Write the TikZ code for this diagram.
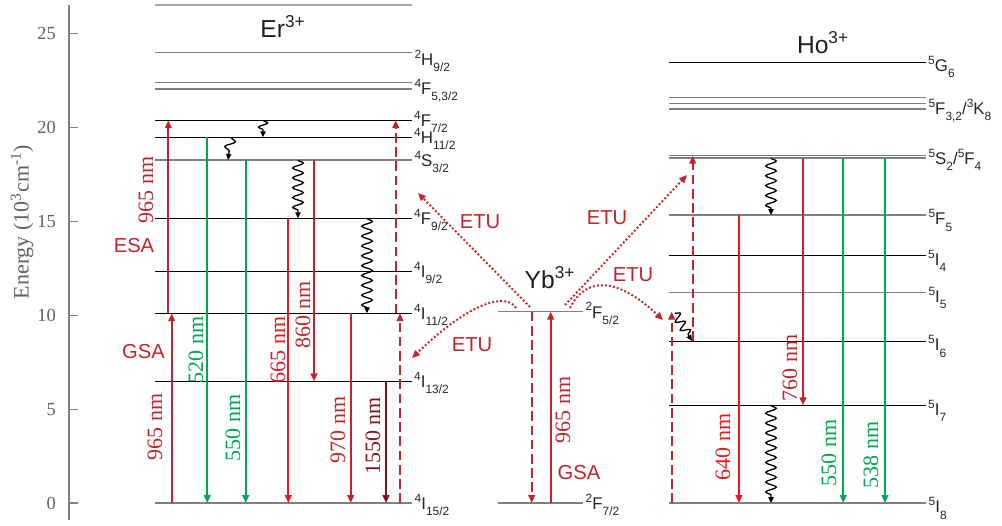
\documentclass[tikz,border=0pt]{standalone}
\usepackage{fontspec}
\setmainfont{Liberation Sans}
\newfontfamily\serifnum{Liberation Serif}
\usepackage{xcolor}
\usepackage{tikz}
\usetikzlibrary{arrows.meta,decorations.pathmorphing}
\definecolor{rojo}{RGB}{193,36,42}
\definecolor{rojovivo}{RGB}{234,22,30}
\definecolor{granate}{RGB}{128,20,22}
\definecolor{verde}{RGB}{0,166,80}
\definecolor{gris}{RGB}{128,128,128}
\definecolor{ejes}{RGB}{96,96,96}
\newcommand{\termino}[3]{\raisebox{0.8ex}{\fontsize{6.8}{7}\selectfont #1}#2\raisebox{-0.7ex}{\fontsize{6.8}{7}\selectfont #3}}
\tikzset{
  nivel/.style={draw=black,line width=0.55pt},
  nivelgris/.style={draw=gris,line width=0.9pt},
  radiativa/.style={-{Triangle[length=4.5pt,width=3.8pt]},line width=1.15pt},
  bombeo/.style={-{Triangle[length=4.5pt,width=3.8pt]},line width=1.3pt,
    dash pattern=on 5.5pt off 2.6pt,draw=rojo},
  etu/.style={-{Triangle[length=4.5pt,width=3.8pt]},line width=1.1pt,
    dash pattern=on 1.1pt off 1.2pt,draw=rojo},
  norad/.style={-{Triangle[length=3.4pt,width=3pt]},line width=0.75pt,draw=black,
    decorate,decoration={snake,amplitude=3pt,segment length=5.6pt,post length=2.8pt}},
  estado/.style={anchor=west,inner sep=1pt,yshift=-1pt,text=black!85,
    font=\fontsize{9.6}{10}\selectfont}
}

\begin{document}
\begin{tikzpicture}[
  x=0.02cm,y=-0.02cm,
  onda/.style={rotate=90,font=\serifnum\fontsize{12.5}{14}\selectfont},
  proceso/.style={text=rojo,font=\fontsize{11.5}{13}\selectfont},
  ion/.style={anchor=base,text=black!88,font=\fontsize{14}{16}\selectfont},
  marca/.style={anchor=east,text=ejes,font=\serifnum\fontsize{10.5}{12}\selectfont},
  eje/.style={draw=gris,line width=0.8pt}
]
\useasboundingbox (0,0) rectangle (1002,525);

% 1. Eje de energía
\coordinate (ejearriba) at (69,5);
\coordinate (ejeabajo) at (69,520);
\draw[eje] (ejearriba) -- (ejeabajo);
\draw[eje] (69,503) -- +(9,0);
\draw[eje] (69,409.2) -- +(9,0);
\draw[eje] (69,315.3) -- +(9,0);
\draw[eje] (69,221.5) -- +(9,0);
\draw[eje] (69,127.6) -- +(9,0);
\draw[eje] (69,33.7) -- +(9,0);
\node[marca] (m0) at (62,503) {0};
\node[marca] (m5) at (62,409.2) {5};
\node[marca] (m10) at (62,315.3) {10};
\node[marca] (m15) at (62,221.5) {15};
\node[marca] (m20) at (62,127.6) {20};
\node[marca] (m25) at (62,33.7) {25};
\node[rotate=90,text=ejes,font=\serifnum\fontsize{12.5}{14}\selectfont] (titulo) at (22,222)
  {Energy (10\textsuperscript{3}cm\textsuperscript{-1})};

% 2. Niveles del Er
\coordinate (erTope) at (155,5);
\coordinate (er2H92) at (155,52.7);
\coordinate (er4F52) at (155,82.3);
\coordinate (er4F32) at (155,89);
\coordinate (er4F72) at (155,120.3);
\coordinate (er4H112) at (155,137.3);
\coordinate (er4S32) at (155,160);
\coordinate (er4F92) at (155,218.3);
\coordinate (er4I92) at (155,271);
\coordinate (er4I112) at (155,313.3);
\coordinate (er4I132) at (155,381.3);
\coordinate (er4I152) at (155,503);

\draw[nivelgris,draw=gris!70] (erTope) -- +(257,0);
\draw[nivelgris] (er2H92) -- +(257,0) node[estado,yshift=-3.5pt] {\termino{2}{H}{9/2}};
\draw[nivelgris] (er4F52) -- +(257,0);
\draw[nivelgris] (er4F32) -- +(257,0) node[estado] {\termino{4}{F}{5,3/2}};
\draw[nivel] (er4F72) -- +(257,0) node[estado] {\termino{4}{F}{7/2}};
\draw[nivel] (er4H112) -- +(257,0) node[estado] {\termino{4}{H}{11/2}};
\draw[nivelgris] (er4S32) -- +(257,0) node[estado] {\termino{4}{S}{3/2}};
\draw[nivel] (er4F92) -- +(257,0) node[estado] {\termino{4}{F}{9/2}};
\draw[nivel] (er4I92) -- +(257,0) node[estado] {\termino{4}{I}{9/2}};
\draw[nivel] (er4I112) -- +(257,0) node[estado] {\termino{4}{I}{11/2}};
\draw[nivel] (er4I132) -- +(257,0) node[estado] {\termino{4}{I}{13/2}};
\draw[nivelgris,line width=1.1pt] (er4I152) -- +(257,0) node[estado] {\termino{4}{I}{15/2}};
\node[ion] (er) at (283,37) {Er\textsuperscript{3+}};

% absorción y emisiones
\draw[radiativa,draw=rojo] (171.7,0 |- er4I152) -- (171.7,0 |- er4I112);
\draw[radiativa,draw=rojo] (168.3,0 |- er4I112) -- (168.3,0 |- er4F72);
\draw[radiativa,draw=verde] (207.3,0 |- er4H112) -- (207.3,0 |- er4I152);
\draw[radiativa,draw=verde] (245.7,0 |- er4S32) -- (245.7,0 |- er4I152);
\draw[radiativa,draw=rojovivo] (288.3,0 |- er4F92) -- (288.3,0 |- er4I152);
\draw[radiativa,draw=rojo] (314,0 |- er4S32) -- (314,0 |- er4I132);
\draw[radiativa,draw=rojo] (350.7,0 |- er4I112) -- (350.7,0 |- er4I152);
\draw[radiativa,draw=granate] (386,0 |- er4I132) -- (386,0 |- er4I152);
\draw[bombeo] (400,0 |- er4I152) -- (400,0 |- er4I112);
\draw[bombeo] (395.7,0 |- er4I112) -- (395.7,0 |- er4F72);

% relajaciones no radiativas
\draw[norad,decoration={amplitude=2.6pt,segment length=4.8pt,post length=2.4pt}] (263,0 |- er4F72) -- (263,0 |- er4H112);
\draw[norad,decoration={amplitude=2.8pt,segment length=7pt}] (231,0 |- er4H112) -- (228,0 |- er4S32);
\draw[norad] (298,0 |- er4S32) -- (298,0 |- er4F92);
\draw[norad] (367,0 |- er4F92) -- (367,0 |- er4I112);

\node[onda,text=rojo] (er965esa) at (146,190) {965 nm};
\node[proceso] (esa) at (134,246) {ESA};
\node[proceso] (gsaer) at (143.5,352) {GSA};
\node[onda,text=rojo] (er965gsa) at (155,427) {965 nm};
\node[onda,text=verde] (er520) at (196,350) {520 nm};
\node[onda,text=verde] (er550) at (233,428) {550 nm};
\node[onda,text=rojovivo] (er665) at (278,350) {665 nm};
\node[onda,text=rojo] (er860) at (303,315) {860 nm};
\node[onda,text=rojo] (er970) at (338,430) {970 nm};
\node[onda,text=granate] (er1550) at (373,436) {1550 nm};

% 3. Sensibilizador Yb
\coordinate (yb2F52) at (498,311.7);
\coordinate (yb2F72) at (498,503);
\draw[nivelgris] (yb2F52) -- +(85,0) node[estado] {\termino{2}{F}{5/2}};
\draw[nivelgris,line width=1.1pt] (yb2F72) -- +(85,0) node[estado] {\termino{2}{F}{7/2}};
\node[ion] (yb) at (550,288) {Yb\textsuperscript{3+}};
\draw[bombeo] (531.7,0 |- yb2F52) -- (531.7,0 |- yb2F72);
\draw[radiativa,draw=rojo] (550.7,0 |- yb2F72) -- (550.7,0 |- yb2F52);
\node[onda,text=rojo] (yb965) at (563,410) {965 nm};
\node[proceso] (gsayb) at (579,473) {GSA};

% 4. Niveles del Ho
\coordinate (ho5G6) at (669,62.3);
\coordinate (ho5F3a) at (669,97.7);
\coordinate (ho5F3b) at (669,103.3);
\coordinate (ho3K8) at (669,109);
\coordinate (ho5S2) at (669,155.7);
\coordinate (ho5F4) at (669,158);
\coordinate (ho5F5) at (669,215);
\coordinate (ho5I4) at (669,255.7);
\coordinate (ho5I5) at (669,292.7);
\coordinate (ho5I6) at (669,341);
\coordinate (ho5I7) at (669,405.3);
\coordinate (ho5I8) at (669,503);

\draw[nivel] (ho5G6) -- +(257,0) node[estado,yshift=-1.5pt] {\termino{5}{G}{6}};
\draw[nivelgris] (ho5F3a) -- +(257,0);
\draw[nivelgris] (ho5F3b) -- +(257,0);
\draw[nivelgris] (ho3K8) -- +(257,0) node[estado] {\termino{5}{F}{3,2}/\termino{3}{K}{8}};
\draw[nivelgris] (ho5S2) -- +(257,0);
\draw[nivelgris] (ho5F4) -- +(257,0) node[estado] {\termino{5}{S}{2}/\termino{5}{F}{4}};
\draw[nivelgris] (ho5F5) -- +(257,0) node[estado,yshift=-2pt] {\termino{5}{F}{5}};
\draw[nivel] (ho5I4) -- +(257,0) node[estado,yshift=-2pt] {\termino{5}{I}{4}};
\draw[nivelgris] (ho5I5) -- +(257,0) node[estado,yshift=-2pt] {\termino{5}{I}{5}};
\draw[nivel] (ho5I6) -- +(257,0) node[estado,yshift=-2pt] {\termino{5}{I}{6}};
\draw[nivel] (ho5I7) -- +(257,0) node[estado,yshift=-2pt] {\termino{5}{I}{7}};
\draw[nivelgris,line width=1.1pt] (ho5I8) -- +(257,0) node[estado,yshift=-2pt] {\termino{5}{I}{8}};
\node[ion] (ho) at (823,53) {Ho\textsuperscript{3+}};

\draw[bombeo] (671.7,0 |- ho5I8) -- (671.7,0 |- yb2F52);
\draw[bombeo] (692.7,0 |- ho5I6) -- (692.7,0 |- ho5S2);
\coordinate (hocaida) at (675,313);
\draw[norad,decoration={amplitude=2.6pt,segment length=5.5pt}] (hocaida) -- (692,0 |- ho5I6);
\draw[radiativa,draw=rojovivo] (739,0 |- ho5F5) -- (739,0 |- ho5I8);
\draw[norad] (771,0 |- ho5F4) -- (771,0 |- ho5F5);
\draw[norad] (771,0 |- ho5I7) -- (771,0 |- ho5I8);
\draw[radiativa,draw=rojo] (803,0 |- ho5F4) -- (803,0 |- ho5I7);
\draw[radiativa,draw=verde] (843.3,0 |- ho5F4) -- (843.3,0 |- ho5I8);
\draw[radiativa,draw=verde] (885,0 |- ho5F4) -- (885,0 |- ho5I8);

\node[onda,text=rojovivo] (ho640) at (723,447) {640 nm};
\node[onda,text=rojo] (ho760) at (790,368) {760 nm};
\node[onda,text=verde] (ho550) at (829,453) {550 nm};
\node[onda,text=verde] (ho538) at (871,455) {538 nm};

% 5. Transferencia de energía (ETU)
\coordinate (ybizqA) at (530,307);
\coordinate (ybizqB) at (516,308);
\coordinate (ybderA) at (565,305);
\coordinate (ybderB) at (570,308);
\coordinate (erllegaA) at (418,193);
\coordinate (erllegaB) at (412,358);
\coordinate (hollegaA) at (687,175);
\coordinate (hollegaB) at (663,320);

\draw[etu] (ybizqA) -- (erllegaA);
\draw[etu] (ybizqB) .. controls (507,293) and (472,300) .. (erllegaB);
\draw[etu] (ybderA) -- (hollegaA);
\draw[etu] (ybderB) .. controls (585,278) and (615,275) .. (hollegaB);

\node[proceso] (etu1) at (480,222) {ETU};
\node[proceso] (etu2) at (472,345) {ETU};
\node[proceso] (etu3) at (607,218) {ETU};
\node[proceso] (etu4) at (633,275) {ETU};

\end{tikzpicture}
\end{document}
